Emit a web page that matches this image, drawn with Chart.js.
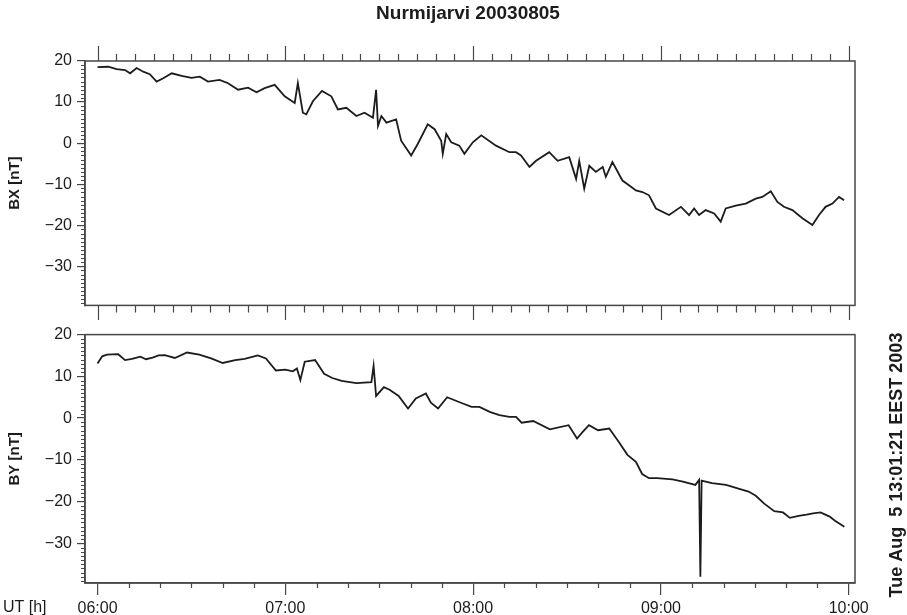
<!DOCTYPE html>
<html>
<head>
<meta charset="utf-8">
<script src="https://cdn.jsdelivr.net/npm/chart.js@4.4.1/dist/chart.umd.min.js"></script>
<style>
  html, body { margin: 0; padding: 0; background: #fff; }
  #wrap { position: relative; width: 907px; height: 615px; }
  .panel { position: absolute; left: 0; width: 907px; }
  #top { top: 0; height: 320px; }
  #bot { top: 320px; height: 295px; }
</style>
</head>
<body>
<div id="wrap">
  <div class="panel" id="top"><canvas id="bx"></canvas></div>
  <div class="panel" id="bot"><canvas id="by"></canvas></div>
</div>
<script>
// Nurmijarvi magnetometer, 2003-08-05, 06:00-10:00 UT.
// Time is given in minutes after 06:00 UT.
const TITLE = 'Nurmijarvi 20030805';
const STAMP = 'Tue Aug  5 13:01:21 EEST 2003';
const hourTicks = [0, 60, 120, 180, 240];
const hourLabels = ['06:00', '07:00', '08:00', '09:00', '10:00'];

const bxMinutes = [0, 3.4, 6.1, 8.8, 10.4, 12.5, 14.6, 16.7, 18.9, 21, 23.7, 26.9, 30, 32.7, 35.3, 39, 41.7,
  44.9, 48.1, 50.8, 53.4, 56.6, 59.8, 63, 64, 65.6, 66.7, 68.8, 71.7, 74.7, 76.8, 79.5, 82.7, 85.3, 88, 89,
  89.6, 90.7, 92.3, 95.4, 97, 100.2, 102.3, 105.5, 107.7, 109.8, 110.3, 111.4, 113, 115.6, 117.2, 119.9,
  122.6, 127.3, 131.6, 133.7, 135.3, 138, 140.1, 144.3, 147, 150.7, 152.9, 153.9, 155.5, 157.1, 159.2,
  161.4, 162.4, 164.5, 167.7, 169.9, 172, 174.1, 176.2, 178.4, 182.6, 186.4, 189, 190.6, 192.2, 194.3,
  197, 199.1, 200.7, 203.9, 207.1, 210.3, 212.4, 215.1, 217.2, 219.3, 222, 225.2, 228.4, 230.5, 232.6,
  234.8, 236.9, 238.5];
const bxValues = [18.5, 18.6, 18.0, 17.8, 17.0, 18.3, 17.4, 16.8, 15.0, 15.8, 17.0, 16.4, 15.9, 16.2, 15.0, 15.4, 14.6,
  13.0, 13.5, 12.4, 13.4, 14.2, 11.4, 9.8, 14.6, 7.4, 7.0, 10.2, 12.7, 11.4, 8.2, 8.6, 6.6, 7.4, 6.2, 13.0,
  4.2, 6.6, 5.0, 5.8, 0.6, -3.0, -0.2, 4.6, 3.4, 0.6, -2.6, 2.2, 0.2, -0.6, -2.6, 0.2,
  1.9, -0.6, -2.2, -2.2, -3.0, -5.8, -4.3, -2.2, -4.3, -3.4, -8.7, -4.3, -11.1, -5.5, -7.0,
  -5.8, -8.2, -4.6, -9.1, -10.3, -11.5, -11.9, -12.7, -15.9, -17.5, -15.5, -17.5, -15.9, -17.5, -16.3,
  -17.1, -19.1, -15.9, -15.2, -14.7, -13.5, -13.1, -11.7, -14.3, -15.5, -16.3, -18.3, -19.9, -17.5, -15.5,
  -14.7, -13.1, -13.9];

const byMinutes = [0, 1.5, 3, 6.6, 8.8, 11, 13.7, 15.5, 17.6, 19.5, 21.5, 24.7, 28.6, 32.5, 36.3, 40, 44, 47,
  51.2, 53.8, 57, 60, 62.4, 63.7, 64.8, 66.2, 69.5, 72.4, 75, 78, 82.7, 87.5, 88.2, 89, 91.5, 93.3, 96.2,
  99.2, 101.7, 104.9, 106.5, 108.8, 111.7, 116.7, 119.5, 122, 125.3, 128.4, 131.6, 133.7, 135.5, 139.2,
  144.5, 150.5, 153.2, 154.8, 157, 159.9, 163.5, 166.6, 169.3, 172, 174, 176.2, 178.8, 183.7, 187, 191,
  192.2, 192.6, 193.0, 196.3, 200.8, 205.3, 208, 210.3, 213, 216.2, 219, 221.2, 224, 226.5, 228.6, 231,
  233.9, 235.6, 238.6];
const byValues = [13.1, 14.8, 15.2, 15.3, 13.9, 14.2, 14.7, 14.1, 14.5, 15.0, 15.1, 14.4, 15.7, 15.2, 14.3, 13.2, 13.9, 14.2,
  15.0, 14.3, 11.4, 11.6, 11.2, 11.9, 9.1, 13.5, 13.9, 10.6, 9.6, 8.9, 8.4, 8.6, 12.5, 5.3, 7.4, 6.8, 5.3,
  2.3, 4.7, 5.9, 3.7, 2.3, 5.0, 3.5, 2.7, 2.7, 1.5, 0.7, 0.3, 0.3, -1.1, -0.7,
  -2.7, -1.7, -4.9, -3.5, -1.7, -2.9, -2.5, -5.8, -8.8, -10.5, -13.4, -14.4, -14.4, -14.7, -15.2, -16.0,
  -14.8, -38.0, -15.0, -15.6, -16.0, -17.0, -17.6, -18.6, -20.5, -22.3, -22.6, -23.9, -23.4, -23.1, -22.8, -22.6,
  -23.6, -24.6, -26.0];

const X_MIN = -4, X_MAX = 242;
const Y_MIN = -39.5, Y_MAX = 20;
const INK = '#1c1c1c';
const FRAME = '#474747';
const FONT = "'Liberation Sans', Arial, Helvetica, sans-serif";

function points(xs, ys) {
  return xs.map((x, i) => ({ x: x, y: ys[i] }));
}

function minusLabel(v) {
  return v < 0 ? '\u2212' + Math.abs(v) : String(v);
}

// Frame around the plot area plus the minor tick marks and loose texts.
function panelDecor(cfg) {
  return {
    id: 'panelDecor',
    afterDraw(chart) {
      const ctx = chart.ctx;
      const a = chart.chartArea;
      const xs = chart.scales.x;
      const ys = chart.scales.y;
      ctx.save();
      ctx.strokeStyle = FRAME;
      ctx.lineWidth = 1.5;
      ctx.strokeRect(a.left, a.top, a.right - a.left, a.bottom - a.top);

      ctx.beginPath();
      // y minor ticks, every 1 nT
      for (let v = Math.ceil(Y_MIN); v <= Y_MAX; v++) {
        if (v % 10 === 0) continue;
        const py = Math.round(ys.getPixelForValue(v)) + 0.5;
        ctx.moveTo(a.left - 4, py);
        ctx.lineTo(a.left, py);
      }
      // time ticks on the top edge
      if (cfg.topStep) {
        for (let m = 0; m <= 240; m += cfg.topStep) {
          const px = Math.round(xs.getPixelForValue(m)) + 0.5;
          const len = m % 60 === 0 ? 15 : 7;
          ctx.moveTo(px, a.top);
          ctx.lineTo(px, a.top - len);
        }
      }
      // time ticks on the bottom edge
      if (cfg.bottomStep) {
        for (let m = 0; m <= 240; m += cfg.bottomStep) {
          if (cfg.bottomMinorOnly && m % 60 === 0) continue;
          const px = Math.round(xs.getPixelForValue(m)) + 0.5;
          const len = m % 60 === 0 ? 15 : cfg.bottomMinorLen;
          ctx.moveTo(px, a.bottom);
          ctx.lineTo(px, a.bottom + len);
        }
      }
      ctx.lineWidth = 1.2;
      ctx.stroke();

      ctx.fillStyle = INK;
      if (cfg.title) {
        ctx.font = 'bold 19px ' + FONT;
        ctx.textAlign = 'center';
        ctx.textBaseline = 'middle';
        ctx.fillText(cfg.title, 468, 14);
      }
      if (cfg.stamp) {
        ctx.font = 'bold 18px ' + FONT;
        ctx.textAlign = 'center';
        ctx.textBaseline = 'middle';
        ctx.translate(897, 145);
        ctx.rotate(-Math.PI / 2);
        ctx.fillText(cfg.stamp, 0, 0);
        ctx.setTransform(1, 0, 0, 1, 0, 0);
      }
      if (cfg.unit) {
        ctx.font = '16px ' + FONT;
        ctx.textAlign = 'left';
        ctx.textBaseline = 'top';
        ctx.fillText(cfg.unit, 3, 280);
      }
      ctx.restore();
    }
  };
}

function yScale(title) {
  return {
    type: 'linear',
    position: 'left',
    min: Y_MIN,
    max: Y_MAX,
    afterFit(scale) { scale.width = 85; },
    border: { display: true, color: FRAME, width: 1.5 },
    grid: { drawOnChartArea: false, drawTicks: true, tickLength: 8, color: FRAME, lineWidth: 1.2 },
    ticks: {
      stepSize: 10,
      includeBounds: false,
      padding: 5,
      color: INK,
      font: { family: FONT, size: 16 },
      callback: (v) => minusLabel(v)
    },
    title: {
      display: true,
      text: title,
      color: INK,
      font: { family: FONT, size: 15, weight: 'bold' },
      padding: { top: 6, bottom: 0 }
    }
  };
}

function lineDataset(label, xs, ys) {
  return {
    label: label,
    data: points(xs, ys),
    borderColor: INK,
    borderWidth: 1.8,
    pointRadius: 0,
    tension: 0,
    fill: false
  };
}

const common = {
  responsive: true,
  maintainAspectRatio: false,
  animation: false,
  devicePixelRatio: 1,
  plugins: { legend: { display: false }, tooltip: { enabled: false } }
};

new Chart(document.getElementById('bx'), {
  type: 'line',
  data: { datasets: [lineDataset('BX', bxMinutes, bxValues)] },
  options: Object.assign({}, common, {
    layout: { padding: { top: 61, right: 52, bottom: 13, left: 0 } },
    scales: {
      x: { type: 'linear', min: X_MIN, max: X_MAX, display: false },
      y: yScale('BX [nT]')
    }
  }),
  plugins: [panelDecor({ title: TITLE, topStep: 6, bottomStep: 6, bottomMinorLen: 7 })]
});

new Chart(document.getElementById('by'), {
  type: 'line',
  data: { datasets: [lineDataset('BY', byMinutes, byValues)] },
  options: Object.assign({}, common, {
    layout: { padding: { top: 13, right: 52, bottom: 0, left: 0 } },
    scales: {
      x: {
        type: 'linear',
        position: 'bottom',
        min: X_MIN,
        max: X_MAX,
        afterFit(scale) { scale.height = 32; },
        afterBuildTicks(scale) { scale.ticks = hourTicks.map((v) => ({ value: v })); },
        border: { display: true, color: FRAME, width: 1.5 },
        grid: { drawOnChartArea: false, drawTicks: true, tickLength: 12, color: FRAME, lineWidth: 1.2 },
        ticks: {
          autoSkip: false,
          maxRotation: 0,
          padding: 4,
          color: INK,
          font: { family: FONT, size: 16 },
          callback: (v, i) => hourLabels[i]
        }
      },
      y: yScale('BY [nT]')
    }
  }),
  plugins: [panelDecor({ stamp: STAMP, unit: 'UT [h]', bottomStep: 10, bottomMinorOnly: true, bottomMinorLen: 5 })]
});
</script>
</body>
</html>
